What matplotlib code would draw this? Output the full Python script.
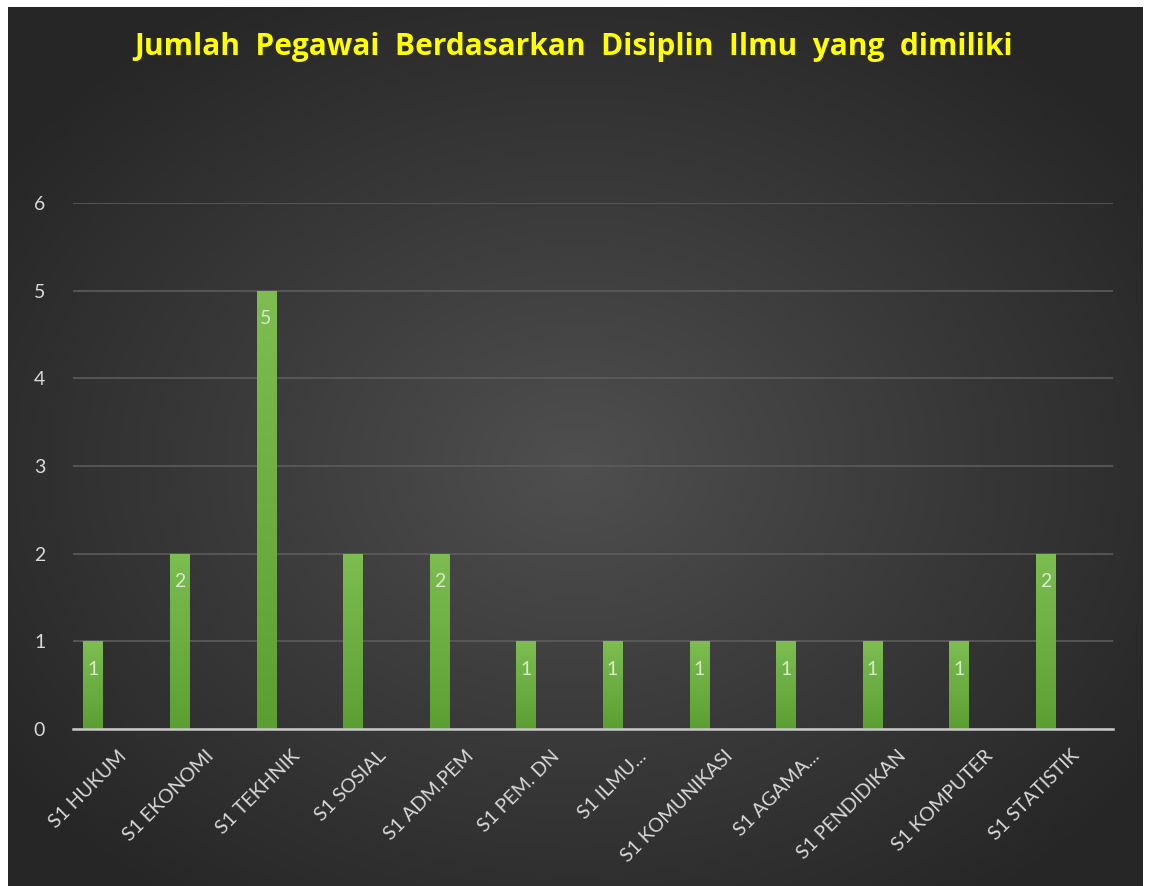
import numpy as np
import matplotlib
matplotlib.use("Agg")
import matplotlib.pyplot as plt
from matplotlib.colors import LinearSegmentedColormap

categories = ["S1 HUKUM", "S1 EKONOMI", "S1 TEKHNIK", "S1 SOSIAL", "S1 ADM.PEM",
              "S1 PEM. DN", "S1 ILMU...", "S1 KOMUNIKASI", "S1 AGAMA...",
              "S1 PENDIDIKAN", "S1 KOMPUTER", "S1 STATISTIK"]
values = [1, 2, 5, 2, 2, 1, 1, 1, 1, 1, 1, 2]
data_labels = ["1", "2", "5", "", "2", "1", "1", "1", "1", "1", "1", "2"]
yticks = [0, 1, 2, 3, 4, 5, 6]
title = "Jumlah Pegawai Berdasarkan Disiplin Ilmu yang dimiliki"

W, H = 1149, 886
fig = plt.figure(figsize=(W / 100, H / 100), dpi=100)
fig.patch.set_facecolor("white")

# background panel with radial gradient
bx0, bx1, by_top = 8, 1143, 7
bg = fig.add_axes([bx0 / W, 0, (bx1 - bx0) / W, (H - by_top) / H])
bg.set_axis_off()
ny, nx = 300, 400
yy, xx = np.mgrid[0:ny, 0:nx]
cx, cy = nx * 0.5, ny * 0.52
r = np.sqrt(((xx - cx) / (nx * 0.62)) ** 2 + ((yy - cy) / (ny * 0.62)) ** 2)
r = np.clip(r, 0, 1)
cmap_bg = LinearSegmentedColormap.from_list("bg", ["#4f4f4f", "#3a3a3a", "#262626"])
bg.imshow(r, cmap=cmap_bg, aspect="auto", extent=[0, 1, 0, 1], vmin=0, vmax=1)
bg.set_xlim(0, 1)
bg.set_ylim(0, 1)

# main plot axes
ax_left, ax_right = 73, 1113
y0_px, y6_px = 729, 203
ax = fig.add_axes([ax_left / W, (H - y0_px) / H, (ax_right - ax_left) / W, (y0_px - y6_px) / H])
ax.set_facecolor("none")
x = np.arange(len(categories))
bar_w = 0.22
bars = ax.bar(x, values, width=bar_w, color="#6aae3f", zorder=3, linewidth=0)

# gradient fill for bars
grad = np.linspace(0, 1, 256).reshape(-1, 1)
cmap_bar = LinearSegmentedColormap.from_list("bar", ["#7dbd52", "#5b9f33"])
for b in bars:
    bx, bw, bh = b.get_x(), b.get_width(), b.get_height()
    im = ax.imshow(grad, cmap=cmap_bar, aspect="auto", extent=[bx, bx + bw, 0, bh],
                   zorder=4, origin="upper")
    im.set_clip_path(b)

for xi, v, lab in zip(x, values, data_labels):
    if lab:
        ax.annotate(lab, (xi, v), xytext=(0, -20), textcoords="offset points",
                    ha="center", va="center", color="#d6eccb", fontsize=14,
                    family="Lato", zorder=6)

ax.set_xlim(-0.23, 11.78)
ax.set_ylim(0, 6)
ax.set_yticks(yticks)
ax.set_yticklabels([str(t) for t in yticks], color="#d9d9d9", fontsize=14, family="Lato")
ax.yaxis.grid(True, color="#5c5c5c", linewidth=1.2, zorder=0)
ax.set_axisbelow(True)
ax.set_xticks(x + 0.29)
ax.set_xticklabels(categories, rotation=45, ha="right", rotation_mode="anchor",
                   color="#d9d9d9", fontsize=14, family="Lato")
ax.tick_params(axis="both", length=0)
ax.tick_params(axis="y", pad=20)
ax.tick_params(axis="x", pad=13)
for s in ["top", "right", "left"]:
    ax.spines[s].set_visible(False)
ax.spines["bottom"].set_color("#c8c8c8")
ax.spines["bottom"].set_linewidth(1.8)
ax.spines["bottom"].set_zorder(5)

fig.text(574 / W, 1 - 47 / H, title.replace(" ", "  "), ha="center", va="center",
         color="#ffff00", fontsize=21.5, fontweight="bold", family="Open Sans")

fig.savefig("out.png", dpi=100, facecolor=fig.get_facecolor())
